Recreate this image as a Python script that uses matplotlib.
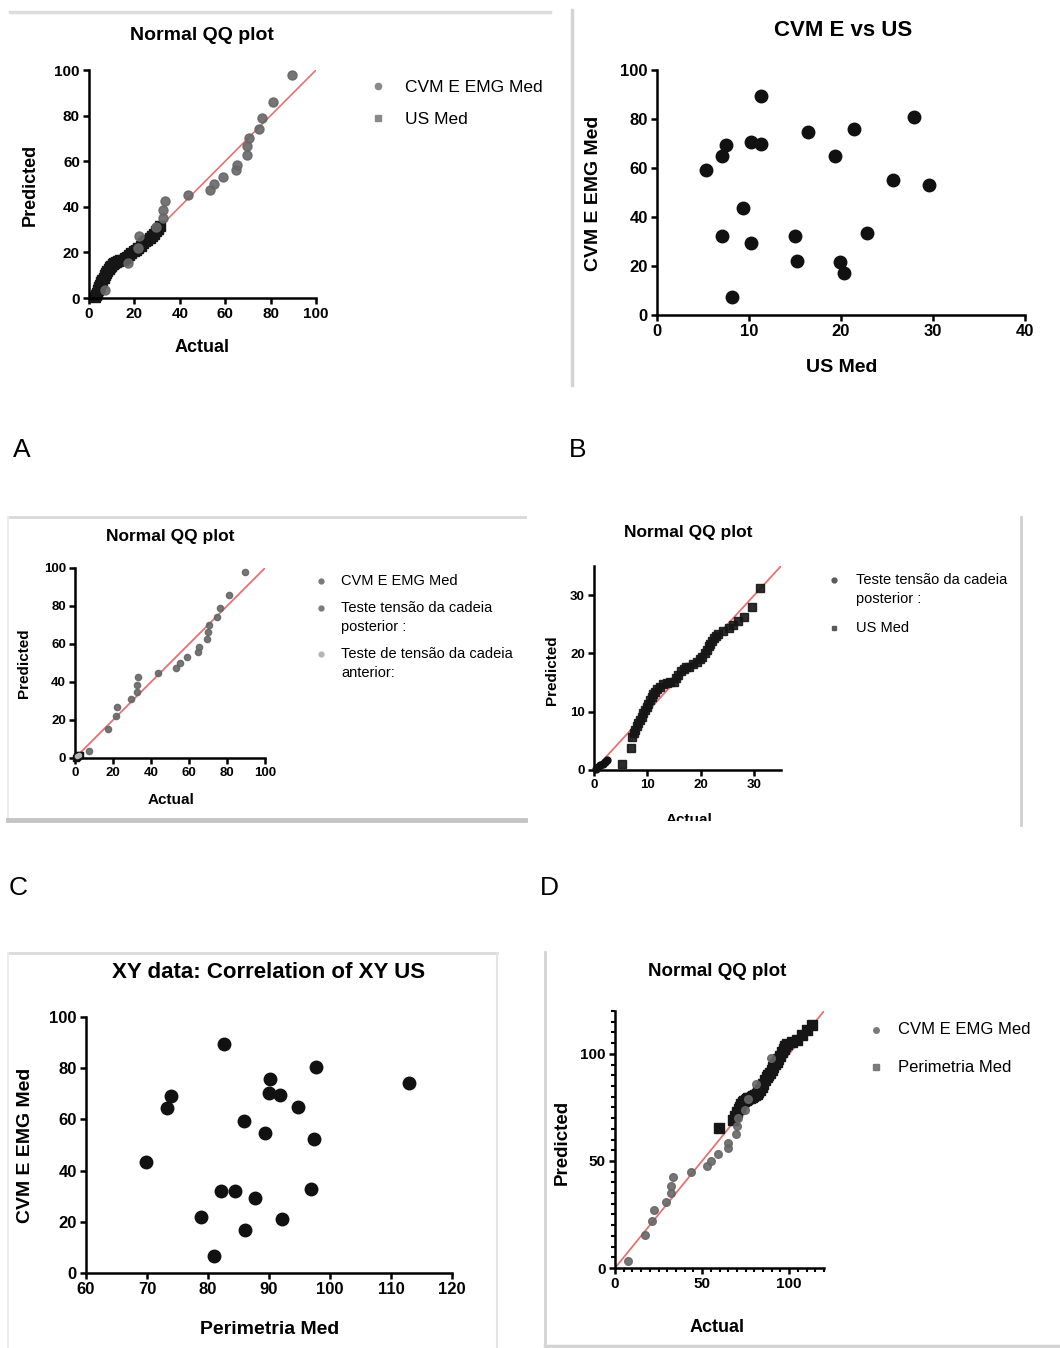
import matplotlib
matplotlib.use("Agg")
import matplotlib.pyplot as plt
from matplotlib.lines import Line2D
from matplotlib.patches import Rectangle
from matplotlib.ticker import MultipleLocator

W, H = 1060, 1348

plt.rcParams["font.family"] = ["Liberation Sans", "DejaVu Sans"]
plt.rcParams["font.weight"] = "bold"

# CVM E EMG Med normal QQ (actual = sorted values, predicted)
cvm_actual = [7.2, 17.3, 21.5, 22.2, 29.3, 32.4, 32.4, 33.3, 43.5, 53.1, 55.1,
              59.2, 64.9, 65.0, 69.4, 69.8, 70.7, 74.7, 76.1, 81.0, 89.5]
cvm_pred = [3.5, 15.5, 22.0, 27.0, 31.0, 35.0, 38.5, 42.5, 45.0, 47.5, 50.0,
            53.0, 56.0, 58.5, 62.5, 66.5, 70.0, 74.0, 79.0, 86.0, 98.0]

# US Med QQ as drawn in panel A
us_a_actual = [2.6, 3.0, 3.4, 3.8, 4.2, 4.6, 5.0, 5.5, 5.9, 6.4, 6.9, 7.4, 8.0,
               8.6, 9.2, 9.8, 10.5, 11.2, 11.9, 12.8, 13.8, 14.8, 15.8, 16.8,
               17.8, 18.7, 19.7, 20.7, 21.7, 22.7, 23.7, 24.7, 25.7, 26.7,
               27.7, 28.6, 29.6, 30.4, 31.1]
us_a_pred = [0.3, 1.3, 2.3, 3.3, 4.2, 5.0, 5.9, 6.8, 7.9, 8.9, 9.9, 10.9, 11.9,
             12.9, 13.6, 14.2, 14.8, 15.3, 15.6, 16.1, 16.5, 16.8, 17.6, 18.2,
             18.9, 19.7, 20.4, 21.1, 22.0, 23.0, 24.0, 24.8, 25.5, 26.3, 27.2,
             28.1, 29.2, 30.2, 31.4]

# US Med QQ as drawn in panel D
us_d_actual = [5.2, 6.9, 7.1, 7.4, 7.7, 8.0, 8.3, 8.6, 8.9, 9.2, 9.6, 9.9, 10.2,
               10.5, 10.8, 11.1, 11.4, 11.8, 12.4, 13.0, 13.6, 14.3, 14.9, 15.4,
               15.8, 16.3, 16.8, 17.2, 17.7, 18.5, 19.3, 19.8, 20.2, 20.7, 21.1,
               21.5, 21.8, 22.1, 22.4, 22.9, 23.3, 24.2, 25.2, 26.1, 27.0, 28.0,
               29.6, 31.1]
us_d_pred = [1.0, 3.7, 5.7, 6.3, 6.9, 7.5, 8.0, 8.6, 9.1, 9.7, 10.3, 10.8, 11.4,
             12.0, 12.6, 13.0, 13.4, 13.9, 14.3, 14.7, 14.9, 15.1, 15.1, 15.7,
             16.3, 16.9, 17.4, 17.6, 17.7, 18.2, 18.6, 19.0, 19.4, 20.0, 20.6,
             21.2, 21.7, 22.1, 22.6, 23.0, 23.4, 23.9, 24.3, 24.9, 25.6, 26.3,
             28.0, 31.2]

# Teste tensão da cadeia posterior / anterior QQ (near the origin)
post_actual = [0.3, 0.8, 1.2, 1.6, 2.0, 2.4]
post_pred = [0.2, 0.5, 0.8, 1.1, 1.4, 1.7]
ant_actual = [1.0, 2.0]
ant_pred = [0.8, 1.6]

# Perimetria Med QQ
per_actual = [59.5, 68.0, 69.0, 70.0, 71.0, 71.8, 72.6, 73.4, 74.2, 75.0, 75.7,
              76.5, 77.5, 78.5, 79.5, 80.5, 81.4, 82.3, 83.2, 84.2, 85.2, 86.2,
              87.2, 88.1, 89.1, 90.0, 91.0, 91.9, 92.9, 93.8, 94.8, 95.8, 96.8,
              97.7, 98.7, 101.5, 104.4, 107.3, 110.2, 113.0]
per_pred = [65.5, 69.2, 71.0, 72.8, 74.2, 75.4, 76.5, 77.5, 78.2, 78.5, 78.8,
            79.2, 79.6, 80.0, 80.4, 80.8, 81.4, 82.2, 83.2, 84.6, 86.0, 87.6,
            89.0, 90.0, 91.2, 92.5, 94.0, 95.2, 96.4, 97.8, 99.2, 100.8, 102.4,
            103.6, 104.6, 105.6, 106.5, 109.0, 111.0, 113.5]

# CVM E vs US (panel B)
us_med = [5.3, 7.1, 7.5, 7.1, 8.1, 9.3, 10.2, 11.3, 10.2, 11.3, 15.0, 15.2,
          16.4, 19.3, 19.9, 20.3, 21.4, 22.8, 25.7, 27.9, 29.6]
cvm_b = [59.2, 64.9, 69.4, 32.4, 7.2, 43.5, 70.7, 69.8, 29.3, 89.5, 32.4, 22.2,
         74.7, 65.0, 21.5, 17.3, 76.1, 33.3, 55.1, 81.0, 53.1]

# Perimetria vs CVM (panel E)
perimetria = [69.9, 73.2, 74.0, 82.6, 85.9, 89.3, 90.2, 90.0, 91.8, 94.7, 97.7,
              97.3, 96.9, 113.0, 82.2, 84.4, 87.7, 78.9, 86.0, 92.2, 81.0]
cvm_e = [43.4, 64.5, 69.0, 89.5, 59.2, 54.7, 75.8, 70.3, 69.4, 64.7, 80.5,
         52.3, 32.8, 74.2, 31.9, 31.9, 29.3, 21.9, 16.9, 21.2, 6.8]

GRAY = "#666666"
DARK = "#161616"
LIGHT = "#b5b5b5"
RED = "#e57373"

fig = plt.figure(figsize=(W / 100, H / 100), dpi=100)
fig.patch.set_facecolor("white")


def fx(x):
    return x / W


def fy(y):
    return 1 - y / H


def make_axes(left, top, right, bottom, xlim, ylim, tick_size):
    ax = fig.add_axes([fx(left), fy(bottom), (right - left) / W, (bottom - top) / H])
    ax.set_xlim(*xlim)
    ax.set_ylim(*ylim)
    ax.patch.set_alpha(0)
    for side in ("top", "right"):
        ax.spines[side].set_visible(False)
    for side in ("left", "bottom"):
        ax.spines[side].set_linewidth(1.8)
    ax.tick_params(direction="out", length=4.5, width=1.8, labelsize=tick_size, pad=2)
    return ax


def label(x, y, s, size, weight="bold", rotation=0, ha="center"):
    fig.text(fx(x), fy(y), s, fontsize=size, fontweight=weight,
             rotation=rotation, ha=ha, va="center")


def key(x, y, marker, color, size):
    fig.add_artist(Line2D([fx(x)], [fy(y)], marker=marker, color=color,
                          markersize=size, linestyle="none",
                          transform=fig.transFigure))


def rule(x0, y0, x1, y1, color="#d6d6d6", lw=2.0):
    fig.add_artist(Line2D([fx(x0), fx(x1)], [fy(y0), fy(y1)], color=color,
                          linewidth=lw, transform=fig.transFigure))


# panel borders
rule(10, 12, 550, 12, "#dcdcdc", 2.5)
rule(572, 10, 572, 385, "#d4d4d4", 2.5)
rule(8, 517, 525, 517, "#d8d8d8", 2.0)
rule(8, 517, 8, 820, "#ececec", 1.5)
rule(8, 820, 525, 820, "#c4c4c4", 3.5)
rule(1021, 517, 1021, 825, "#d0d0d0", 2.0)
rule(8, 953, 497, 953, "#dadada", 2.0)
rule(8, 953, 8, 1348, "#ececec", 1.5)
rule(497, 953, 497, 1348, "#e4e4e4", 1.5)
rule(545, 952, 545, 1346, "#d4d4d4", 2.0)
rule(545, 1346, 1060, 1346, "#d4d4d4", 2.5)

# ---- top left: normal QQ, CVM E EMG Med / US Med
ax = make_axes(89, 70, 316, 298, (0, 100), (0, 100), 11)
ax.xaxis.set_major_locator(MultipleLocator(20))
ax.yaxis.set_major_locator(MultipleLocator(20))
ax.axline((0, 0), slope=1, color=RED, linewidth=1.2, zorder=1)
ax.plot(us_a_actual, us_a_pred, "s", color=DARK, markersize=7.5,
        clip_on=False, zorder=2)
ax.plot(cvm_actual, cvm_pred, "o", color=GRAY, markersize=6.5, alpha=0.9,
        clip_on=False, zorder=3)
label(202, 35, "Normal QQ plot", 14)
label(30, 185, "Predicted", 13, rotation=90)
label(202, 348, "Actual", 13)
key(378, 86, "o", "#8a8a8a", 4.5)
key(378, 118, "s", "#8a8a8a", 4.5)
label(405, 87, "CVM E EMG Med", 12.5, "normal", ha="left")
label(405, 119, "US Med", 12.5, "normal", ha="left")

# ---- top right: CVM E vs US
ax = make_axes(657, 70, 1025, 315, (0, 40), (0, 100), 12)
ax.xaxis.set_major_locator(MultipleLocator(10))
ax.yaxis.set_major_locator(MultipleLocator(20))
ax.plot(us_med, cvm_b, "o", color="#111111", markersize=9, clip_on=False)
label(843, 30, "CVM E vs US", 16)
label(593, 193, "CVM E EMG Med", 14, rotation=90)
label(842, 367, "US Med", 14)

# ---- middle left: normal QQ with three series
ax = make_axes(75, 568, 265, 758, (0, 100), (0, 100), 9.5)
ax.xaxis.set_major_locator(MultipleLocator(20))
ax.yaxis.set_major_locator(MultipleLocator(20))
ax.axline((0, 0), slope=1, color=RED, linewidth=1.3, zorder=1)
ax.plot(cvm_actual, cvm_pred, "o", color=GRAY, markersize=4.5, alpha=0.9,
        clip_on=False, zorder=3)
ax.plot(post_actual, post_pred, "s", color="#111111", markersize=5,
        clip_on=False, zorder=4)
ax.plot(ant_actual, ant_pred, "o", color=LIGHT, markersize=3, clip_on=False,
        zorder=5)
label(170, 537, "Normal QQ plot", 12.5)
label(24, 663, "Predicted", 11, rotation=90)
label(171, 800, "Actual", 11)
key(321, 581, "o", "#7a7a7a", 3.5)
key(321, 608, "o", "#7a7a7a", 3.5)
key(321, 654, "o", LIGHT, 3.5)
label(341, 581, "CVM E EMG Med", 10.5, "normal", ha="left")
label(341, 608, "Teste tensão da cadeia", 10.5, "normal", ha="left")
label(341, 627, "posterior :", 10.5, "normal", ha="left")
label(341, 654, "Teste de tensão da cadeia", 10.5, "normal", ha="left")
label(341, 673, "anterior:", 10.5, "normal", ha="left")

# ---- middle right: normal QQ, posterior / US Med
ax = make_axes(594, 566, 781, 770, (0, 35), (0, 35), 9.5)
ax.xaxis.set_major_locator(MultipleLocator(10))
ax.yaxis.set_major_locator(MultipleLocator(10))
ax.axline((0, 0), slope=1, color=RED, linewidth=1.3, zorder=1)
ax.plot(us_d_actual, us_d_pred, "s", color=DARK, markersize=5.5, alpha=0.9,
        clip_on=False, zorder=2)
ax.plot(post_actual, post_pred, "o", color="#111111", markersize=5,
        clip_on=False, zorder=3)
label(688, 533, "Normal QQ plot", 12.5)
label(552, 670, "Predicted", 11, rotation=90)
label(689, 820, "Actual", 11)
fig.add_artist(Rectangle((fx(540), fy(840)), (1019 - 540) / W, 19 / H,
                         facecolor="white", edgecolor="none",
                         transform=fig.transFigure, zorder=10))
key(834, 580, "o", "#5a5a5a", 3.5)
key(834, 628, "s", "#5a5a5a", 3.5)
label(856, 580, "Teste tensão da cadeia", 10.5, "normal", ha="left")
label(856, 599, "posterior :", 10.5, "normal", ha="left")
label(856, 628, "US Med", 10.5, "normal", ha="left")

# ---- bottom left: Perimetria vs CVM
ax = make_axes(86, 1017, 452, 1273, (60, 120), (0, 100), 12)
ax.xaxis.set_major_locator(MultipleLocator(10))
ax.yaxis.set_major_locator(MultipleLocator(20))
ax.plot(perimetria, cvm_e, "o", color="#111111", markersize=9, clip_on=False)
label(269, 972, "XY data: Correlation of XY US", 16)
label(26, 1145, "CVM E EMG Med", 14, rotation=90)
label(270, 1330, "Perimetria Med", 14)

# ---- bottom right: normal QQ, CVM / Perimetria
ax = make_axes(615, 1011, 824, 1268, (0, 120), (0, 120), 11)
ax.xaxis.set_major_locator(MultipleLocator(50))
ax.yaxis.set_major_locator(MultipleLocator(50))
ax.xaxis.set_minor_locator(MultipleLocator(5))
ax.yaxis.set_minor_locator(MultipleLocator(5))
ax.tick_params(which="minor", direction="out", length=3, width=1.5)
ax.axline((0, 0), slope=1, color=RED, linewidth=1.3, zorder=1)
ax.plot(per_actual, per_pred, "s", color=DARK, markersize=6.5,
        clip_on=False, zorder=2)
ax.plot(cvm_actual, cvm_pred, "o", color=GRAY, markersize=5.5, alpha=0.9,
        clip_on=False, zorder=3)
label(717, 972, "Normal QQ plot", 13.5)
label(562, 1142, "Predicted", 13.5, rotation=90)
label(717, 1327, "Actual", 13)
key(876, 1030, "o", "#7a7a7a", 4)
key(876, 1067, "s", "#7a7a7a", 4)
label(898, 1030, "CVM E EMG Med", 12, "normal", ha="left")
label(898, 1067, "Perimetria Med", 12, "normal", ha="left")

# panel letters
label(22, 450, "A", 19, "normal")
label(578, 450, "B", 19, "normal")
label(18, 888, "C", 19, "normal")
label(549, 888, "D", 19, "normal")

fig.savefig("out.png", dpi=100, facecolor="white")
